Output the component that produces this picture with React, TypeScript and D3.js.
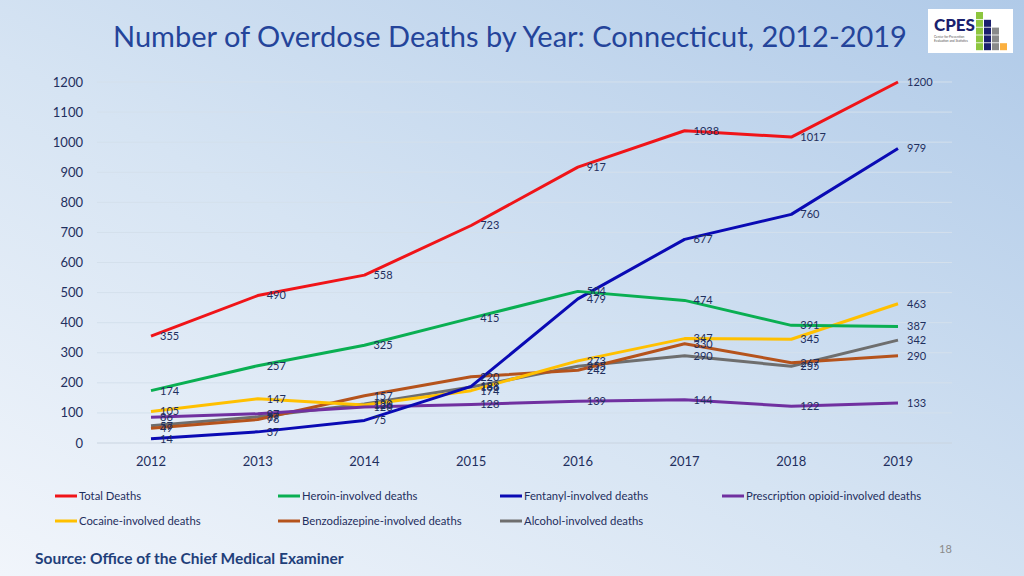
import React from "react";
import * as d3 from "d3";

const years = [2012, 2013, 2014, 2015, 2016, 2017, 2018, 2019];
const totalDeaths = [355, 490, 558, 723, 917, 1038, 1017, 1200];
const heroinDeaths = [174, 257, 325, 415, 504, 474, 391, 387];
const fentanylDeaths = [14, 37, 75, 188, 479, 677, 760, 979];
const rxOpioidDeaths = [86, 97, 120, 128, 139, 144, 122, 133];
const cocaineDeaths = [105, 147, 126, 174, 273, 347, 345, 463];
const benzoDeaths = [49, 78, 157, 220, 242, 330, 267, 290];
const alcoholDeaths = [57, 87, 130, 186, 255, 290, 255, 342];
const yTicks = [0, 100, 200, 300, 400, 500, 600, 700, 800, 900, 1000, 1100, 1200];

const seriesNames = [
  "Total Deaths",
  "Heroin-involved deaths",
  "Fentanyl-involved deaths",
  "Prescription opioid-involved deaths",
  "Cocaine-involved deaths",
  "Benzodiazepine-involved deaths",
  "Alcohol-involved deaths",
];
const seriesValues = [totalDeaths, heroinDeaths, fentanylDeaths, rxOpioidDeaths, cocaineDeaths, benzoDeaths, alcoholDeaths];
const seriesColors = ["#f01418", "#0aaf52", "#0a0ab4", "#7030a0", "#ffc000", "#b5531c", "#6e6e6e"];
const drawOrder = [6, 5, 4, 3, 2, 1, 0];

const legendPos = [
  [55, 496], [278, 496], [500, 496], [722, 496],
  [55, 521], [278, 521], [500, 521],
];

const FONT = "Lato, 'Open Sans', sans-serif";
const NAVY = "#1f2f5e";

export default function App() {
  const x = d3.scalePoint<number>().domain(years).range([151, 898]);
  const y = d3.scaleLinear().domain([0, 1200]).range([443, 82]);
  const line = d3
    .line<number>()
    .x((_, i) => x(years[i]) as number)
    .y((d) => y(d));

  return (
    <svg
      width={1024}
      height={576}
      style={{ position: "absolute", left: 0, top: 0 }}
      xmlns="http://www.w3.org/2000/svg"
    >
      <defs>
        <linearGradient id="bg" x1="0" y1="1" x2="1" y2="0">
          <stop offset="0" stopColor="#f1f5fb" />
          <stop offset="0.45" stopColor="#d6e4f3" />
          <stop offset="1" stopColor="#b0cae8" />
        </linearGradient>
      </defs>
      <rect x={0} y={0} width={1024} height={576} fill="url(#bg)" />

      {/* Title */}
      <text x={510} y={47} textAnchor="middle" fontFamily={FONT} fontSize={29} fill="#24449a">
        Number of Overdose Deaths by Year: Connecticut, 2012-2019
      </text>

      {/* Logo */}
      <g>
        <rect x={928} y={9} width={85} height={44} fill="#ffffff" />
        <text x={934} y={31} fontFamily={FONT} fontWeight={900} fontSize={17} fill="#1b1f6e">
          CPES
        </text>
        <text x={934} y={38} fontFamily={FONT} fontSize={3.2} fill="#555">Center for Prevention</text>
        <text x={934} y={42} fontFamily={FONT} fontSize={3.2} fill="#555">Evaluation and Statistics</text>
        {[
          [0, 0, "#8dc63f"],
          [0, 1, "#8dc63f"], [1, 1, "#1b1f6e"],
          [0, 2, "#8dc63f"], [1, 2, "#1b1f6e"], [2, 2, "#8a8a8a"],
          [0, 3, "#8dc63f"], [1, 3, "#1b1f6e"], [2, 3, "#8a8a8a"],
          [0, 4, "#8dc63f"], [1, 4, "#1b1f6e"], [2, 4, "#8a8a8a"], [3, 4, "#fbb040"],
        ].map(([c, r, col], i) => (
          <rect key={i} x={976 + (c as number) * 8} y={12 + (r as number) * 7.8} width={7} height={7} fill={col as string} />
        ))}
      </g>

      {/* Gridlines */}
      {yTicks.map((t) => (
        <line key={t} x1={97} x2={952} y1={y(t)} y2={y(t)} stroke={t === 0 ? "#c9d4e0" : "#d4e0ec"} strokeWidth={1} />
      ))}

      {/* Y axis labels */}
      {yTicks.map((t) => (
        <text key={t} x={83} y={y(t)} dy="0.35em" textAnchor="end" fontFamily={FONT} fontSize={13} fill={NAVY}>
          {t}
        </text>
      ))}

      {/* X axis labels */}
      {years.map((yr) => (
        <text key={yr} x={x(yr)} y={466} textAnchor="middle" fontFamily={FONT} fontSize={13} fill={NAVY}>
          {yr}
        </text>
      ))}

      {/* Lines */}
      {drawOrder.map((si) => (
        <path
          key={si}
          d={line(seriesValues[si]) || ""}
          fill="none"
          stroke={seriesColors[si]}
          strokeWidth={3}
          strokeLinejoin="round"
        />
      ))}

      {/* Data labels */}
      {drawOrder.map((si) =>
        seriesValues[si].map((v, i) => (
          <text
            key={si + "-" + i}
            x={(x(years[i]) as number) + 9}
            y={y(v)}
            dy="0.35em"
            fontFamily={FONT}
            fontSize={11}
            fill={NAVY}
          >
            {v}
          </text>
        ))
      )}

      {/* Legend */}
      {seriesNames.map((name, i) => (
        <g key={name}>
          <line x1={legendPos[i][0]} x2={legendPos[i][0] + 22} y1={legendPos[i][1]} y2={legendPos[i][1]} stroke={seriesColors[i]} strokeWidth={3} />
          <text x={legendPos[i][0] + 24} y={legendPos[i][1]} dy="0.35em" fontFamily={FONT} fontSize={11.3} fill={NAVY}>
            {name}
          </text>
        </g>
      ))}

      {/* Source */}
      <text x={35} y={564} fontFamily={FONT} fontWeight={700} fontSize={15.5} fill="#1f3f7a">
        Source: Office of the Chief Medical Examiner
      </text>
      <text x={939} y={553} fontFamily={FONT} fontSize={11} fill="#8a8a8a">
        18
      </text>
    </svg>
  );
}
